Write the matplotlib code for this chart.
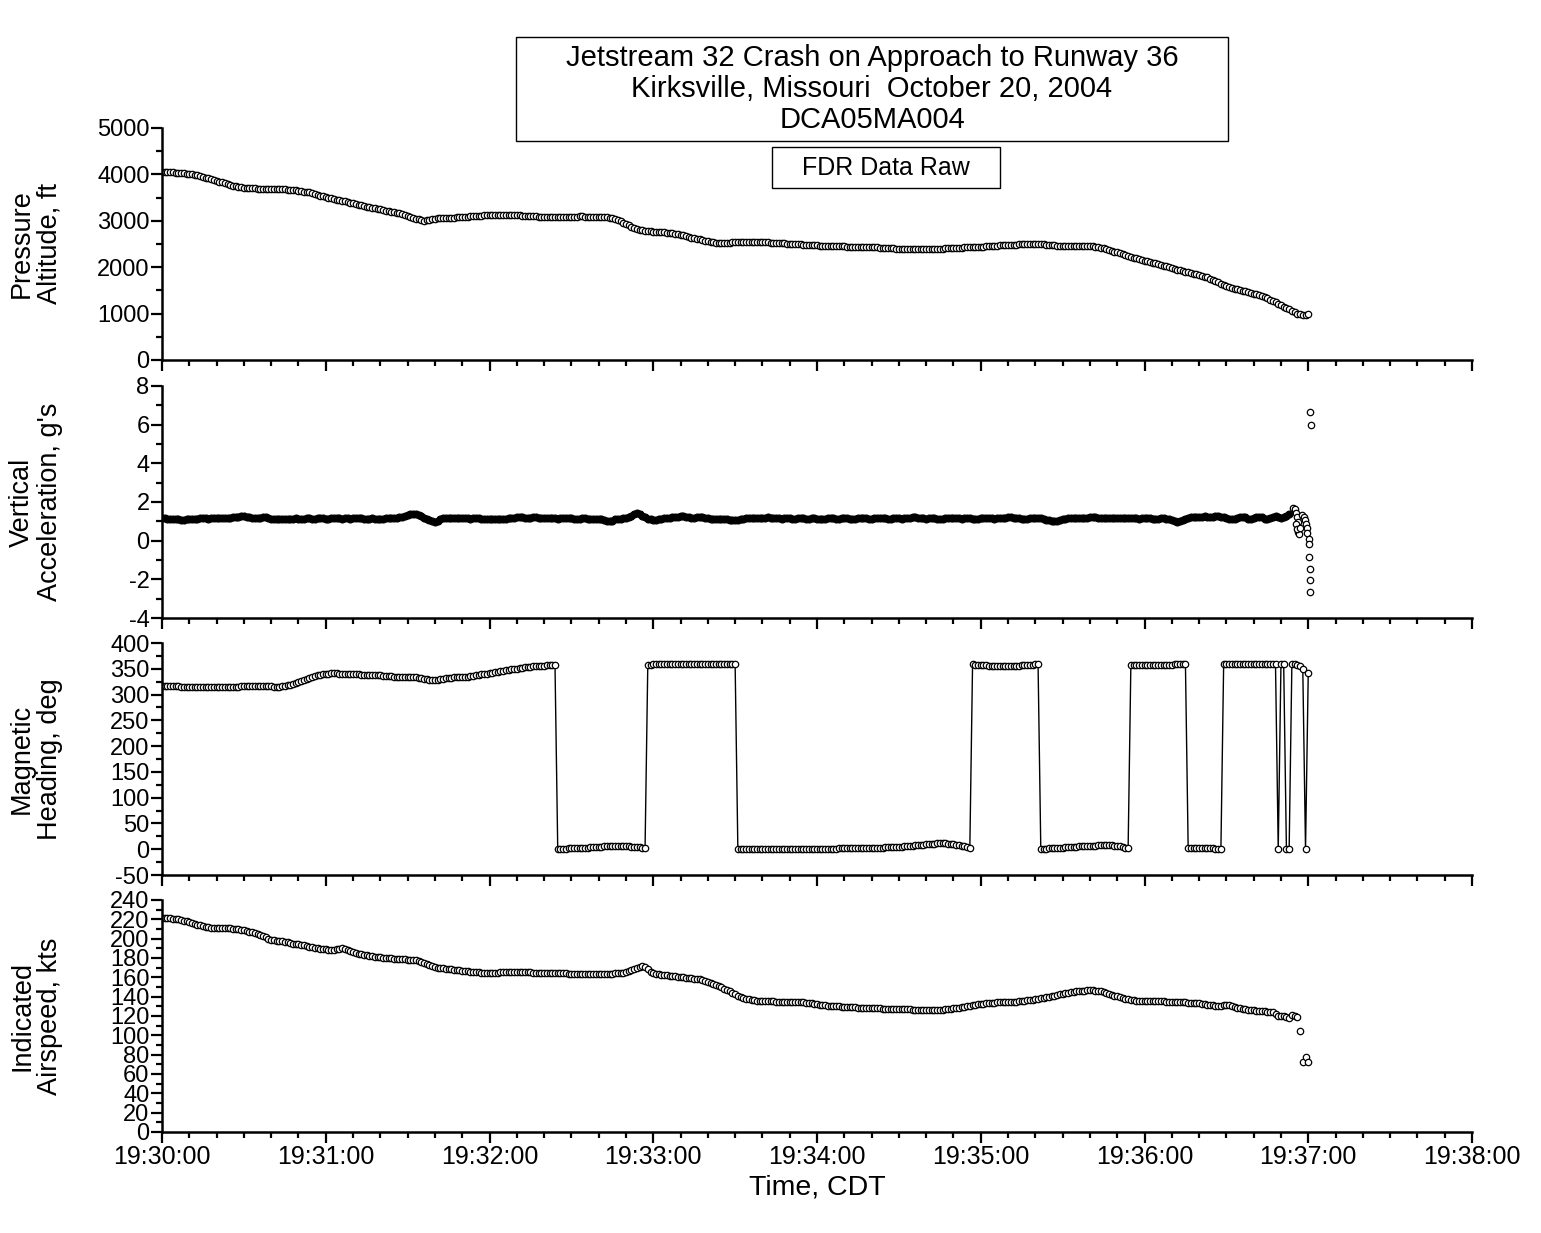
import numpy as np
import matplotlib
matplotlib.use("Agg")
import matplotlib.pyplot as plt
from matplotlib.patches import Rectangle
from matplotlib.ticker import MultipleLocator

plt.rcParams['font.family'] = ['Liberation Sans', 'DejaVu Sans']
plt.rcParams['axes.unicode_minus'] = False

# FDR samples, 1 per second starting 19:30:00
altitude_ft = [
    4058, 4055, 4052, 4048, 4044, 4040, 4035, 4028, 4022, 4016,
    4010, 3999, 3988, 3977, 3966, 3949, 3932, 3915, 3899, 3882,
    3865, 3846, 3827, 3808, 3790, 3775, 3760, 3745, 3730, 3722,
    3715, 3708, 3700, 3698, 3697, 3695, 3693, 3692, 3690, 3689,
    3688, 3687, 3686, 3686, 3685, 3680, 3674, 3668, 3662, 3656,
    3650, 3640, 3630, 3620, 3610, 3592, 3574, 3556, 3542, 3528,
    3514, 3500, 3485, 3471, 3458, 3444, 3431, 3417, 3404, 3390,
    3376, 3362, 3347, 3333, 3319, 3305, 3293, 3281, 3269, 3257,
    3245, 3233, 3221, 3209, 3197, 3185, 3173, 3161, 3144, 3127,
    3110, 3090, 3065, 3045, 3030, 3015, 3005, 3010, 3025, 3040,
    3048, 3052, 3055, 3058, 3062, 3065, 3068, 3071, 3074, 3077,
    3080, 3084, 3090, 3095, 3100, 3105, 3110, 3114, 3118, 3121,
    3124, 3126, 3128, 3129, 3130, 3130, 3129, 3127, 3125, 3122,
    3120, 3116, 3112, 3108, 3104, 3100, 3097, 3094, 3092, 3091,
    3090, 3090, 3089, 3089, 3088, 3088, 3089, 3090, 3090, 3090,
    3091, 3092, 3092, 3093, 3093, 3092, 3092, 3091, 3090, 3089,
    3088, 3085, 3081, 3076, 3070, 3055, 3040, 3020, 2990, 2960,
    2930, 2900, 2873, 2846, 2820, 2805, 2792, 2780, 2776, 2772,
    2768, 2764, 2760, 2755, 2750, 2745, 2740, 2730, 2720, 2710,
    2700, 2685, 2670, 2655, 2640, 2627, 2613, 2600, 2585, 2570,
    2555, 2540, 2536, 2532, 2528, 2524, 2520, 2523, 2528, 2534,
    2540, 2543, 2546, 2548, 2550, 2550, 2549, 2548, 2546, 2543,
    2540, 2537, 2533, 2530, 2526, 2522, 2519, 2515, 2512, 2508,
    2504, 2501, 2497, 2494, 2490, 2486, 2483, 2479, 2476, 2472,
    2468, 2465, 2461, 2457, 2454, 2450, 2449, 2449, 2448, 2447,
    2447, 2446, 2445, 2445, 2444, 2443, 2443, 2442, 2441, 2440,
    2436, 2432, 2428, 2424, 2420, 2416, 2412, 2408, 2404, 2402,
    2400, 2399, 2398, 2397, 2396, 2396, 2395, 2395, 2395, 2395,
    2395, 2395, 2396, 2397, 2398, 2400, 2402, 2405, 2408, 2411,
    2414, 2417, 2420, 2423, 2426, 2429, 2432, 2434, 2436, 2438,
    2440, 2444, 2448, 2452, 2456, 2460, 2464, 2468, 2472, 2476,
    2480, 2483, 2486, 2489, 2492, 2494, 2496, 2498, 2500, 2500,
    2499, 2497, 2494, 2490, 2486, 2482, 2476, 2470, 2465, 2460,
    2459, 2458, 2458, 2457, 2457, 2457, 2458, 2459, 2460, 2460,
    2458, 2452, 2443, 2432, 2420, 2404, 2387, 2370, 2352, 2335,
    2318, 2300, 2281, 2263, 2244, 2226, 2207, 2189, 2170, 2155,
    2140, 2125, 2110, 2095, 2080, 2065, 2050, 2033, 2016, 1999,
    1981, 1964, 1947, 1930, 1916, 1901, 1887, 1873, 1859, 1844,
    1830, 1813, 1797, 1780, 1753, 1727, 1700, 1674, 1648, 1622,
    1596, 1570, 1555, 1540, 1525, 1510, 1495, 1480, 1465, 1450,
    1432, 1415, 1397, 1380, 1353, 1327, 1300, 1270, 1240, 1210,
    1180, 1150, 1120, 1090, 1060, 1030, 1000, 985, 970, 975,
    990,
]

# vertical acceleration, centre of the 1 s band up to the impact sequence
vert_accel_g = [
    1.15, 1.15, 1.14, 1.12, 1.12, 1.13, 1.10, 1.07, 1.08, 1.12,
    1.14, 1.12, 1.10, 1.13, 1.15, 1.16, 1.15, 1.14, 1.15, 1.16,
    1.17, 1.16, 1.15, 1.15, 1.16, 1.18, 1.20, 1.22, 1.25, 1.28,
    1.27, 1.23, 1.20, 1.18, 1.16, 1.15, 1.18, 1.23, 1.20, 1.15,
    1.13, 1.12, 1.12, 1.13, 1.14, 1.14, 1.13, 1.13, 1.14, 1.15,
    1.14, 1.12, 1.13, 1.15, 1.16, 1.14, 1.13, 1.15, 1.17, 1.16,
    1.14, 1.13, 1.16, 1.18, 1.16, 1.15, 1.14, 1.15, 1.15, 1.14,
    1.15, 1.17, 1.19, 1.17, 1.14, 1.13, 1.14, 1.15, 1.14, 1.13,
    1.13, 1.14, 1.15, 1.15, 1.16, 1.17, 1.18, 1.20, 1.24, 1.29,
    1.33, 1.36, 1.38, 1.37, 1.33, 1.26, 1.18, 1.12, 1.05, 1.00,
    0.97, 1.02, 1.10, 1.15, 1.17, 1.18, 1.17, 1.15, 1.15, 1.16,
    1.18, 1.17, 1.15, 1.14, 1.15, 1.16, 1.15, 1.14, 1.13, 1.12,
    1.12, 1.13, 1.12, 1.11, 1.12, 1.13, 1.14, 1.15, 1.16, 1.17,
    1.20, 1.22, 1.21, 1.18, 1.16, 1.18, 1.21, 1.20, 1.17, 1.15,
    1.15, 1.17, 1.19, 1.17, 1.15, 1.14, 1.15, 1.17, 1.19, 1.18,
    1.16, 1.14, 1.12, 1.14, 1.17, 1.16, 1.13, 1.11, 1.10, 1.12,
    1.14, 1.12, 1.08, 1.03, 1.00, 1.04, 1.10, 1.13, 1.14, 1.16,
    1.18, 1.22, 1.30, 1.38, 1.42, 1.38, 1.30, 1.20, 1.14, 1.10,
    1.08, 1.09, 1.12, 1.14, 1.15, 1.16, 1.18, 1.20, 1.22, 1.25,
    1.27, 1.28, 1.25, 1.20, 1.17, 1.16, 1.20, 1.24, 1.22, 1.18,
    1.15, 1.14, 1.12, 1.10, 1.11, 1.13, 1.14, 1.12, 1.09, 1.06,
    1.05, 1.07, 1.10, 1.13, 1.16, 1.18, 1.19, 1.18, 1.17, 1.16,
    1.17, 1.19, 1.20, 1.18, 1.16, 1.15, 1.15, 1.14, 1.15, 1.16,
    1.15, 1.14, 1.14, 1.15, 1.16, 1.15, 1.14, 1.14, 1.15, 1.15,
    1.14, 1.13, 1.13, 1.14, 1.15, 1.16, 1.15, 1.14, 1.14, 1.15,
    1.16, 1.15, 1.14, 1.13, 1.14, 1.15, 1.15, 1.16, 1.15, 1.14,
    1.14, 1.15, 1.16, 1.17, 1.16, 1.15, 1.14, 1.14, 1.15, 1.16,
    1.15, 1.14, 1.15, 1.16, 1.18, 1.20, 1.21, 1.19, 1.17, 1.15,
    1.14, 1.15, 1.16, 1.15, 1.14, 1.13, 1.14, 1.16, 1.18, 1.19,
    1.18, 1.16, 1.15, 1.14, 1.15, 1.16, 1.15, 1.14, 1.13, 1.14,
    1.15, 1.16, 1.17, 1.16, 1.15, 1.14, 1.15, 1.16, 1.17, 1.18,
    1.20, 1.21, 1.19, 1.16, 1.15, 1.14, 1.13, 1.14, 1.16, 1.17,
    1.18, 1.17, 1.15, 1.12, 1.09, 1.05, 1.02, 1.00, 1.02, 1.06,
    1.10, 1.13, 1.15, 1.17, 1.18, 1.17, 1.16, 1.15, 1.16, 1.18,
    1.20, 1.21, 1.20, 1.18, 1.16, 1.15, 1.16, 1.17, 1.18, 1.17,
    1.16, 1.15, 1.16, 1.18, 1.19, 1.18, 1.16, 1.15, 1.14, 1.15,
    1.17, 1.18, 1.16, 1.14, 1.12, 1.13, 1.15, 1.16, 1.14, 1.10,
    1.05, 1.00, 0.98, 1.02, 1.08, 1.13, 1.17, 1.20, 1.22, 1.23,
    1.24, 1.25, 1.26, 1.24, 1.22, 1.25, 1.28, 1.26, 1.22, 1.20,
    1.16, 1.12, 1.10, 1.13, 1.18, 1.23, 1.25, 1.20, 1.14, 1.12,
    1.16, 1.22, 1.25, 1.20, 1.13, 1.10, 1.15, 1.22, 1.26, 1.22,
    1.18, 1.22, 1.30, 1.40,
]

# impact sequence (sub-second samples), seconds after 19:30:00
impact_time_s = [414.4, 415.0, 415.5, 415.8, 416.1, 416.4, 416.2, 416.7,
                 415.5, 416.0, 417.1, 417.7, 418.3, 418.9, 419.3, 419.5,
                 419.7, 420.1, 420.3, 420.3, 420.5, 420.5, 420.6, 420.8, 420.9]
impact_accel_g = [1.71, 1.62, 1.42, 1.21, 0.98, 0.72, 0.46, 0.35,
                  0.86, 0.60, 0.64, 1.33, 1.21, 1.07, 0.86, 0.64,
                  0.38, 0.07, -0.17, -0.83, -1.45, -2.05, -2.65, 6.63, 6.00]

heading_deg = [
    317, 317, 317, 316, 316, 316, 316, 315, 315, 315,
    315, 315, 315, 314, 314, 314, 314, 314, 314, 314,
    314, 314, 314, 314, 314, 315, 315, 315, 315, 316,
    316, 316, 317, 317, 317, 317, 317, 317, 316, 316,
    316, 315, 315, 315, 316, 317, 318, 319, 320, 322,
    324, 326, 328, 330, 332, 334, 336, 337, 338, 339,
    340, 340, 341, 341, 341, 340, 340, 340, 340, 339,
    339, 339, 339, 338, 338, 338, 338, 338, 337, 337,
    337, 336, 336, 336, 336, 335, 335, 335, 335, 335,
    334, 334, 334, 334, 333, 332, 331, 330, 329, 328,
    328, 329, 330, 331, 332, 333, 333, 334, 334, 334,
    335, 335, 335, 336, 336, 337, 338, 339, 339, 340,
    341, 342, 343, 344, 345, 346, 347, 348, 349, 350,
    350, 351, 352, 353, 354, 354, 355, 355, 356, 356,
    356, 357, 357, 357, 357, 1, 1, 1, 1, 2,
    2, 2, 2, 2, 3, 3, 3, 4, 4, 5,
    5, 5, 6, 6, 6, 6, 7, 7, 7, 6,
    6, 6, 5, 5, 4, 4, 3, 2, 358, 358,
    359, 359, 359, 359, 359, 359, 359, 359, 359, 359,
    359, 359, 359, 359, 359, 360, 360, 360, 360, 360,
    360, 360, 360, 360, 360, 359, 359, 359, 359, 359,
    359, 1, 1, 1, 1, 1, 1, 1, 1, 1,
    1, 1, 1, 1, 0, 0, 0, 0, 0, 0,
    0, 0, 0, 0, 0, 0, 0, 1, 1, 1,
    1, 1, 1, 1, 1, 1, 1, 1, 2, 2,
    2, 2, 2, 2, 2, 2, 2, 2, 3, 3,
    3, 3, 3, 3, 3, 4, 4, 4, 4, 5,
    5, 5, 6, 6, 7, 7, 8, 8, 9, 9,
    10, 10, 11, 11, 12, 12, 12, 12, 11, 11,
    10, 9, 8, 7, 6, 5, 3, 359, 358, 358,
    357, 357, 357, 356, 356, 356, 355, 355, 355, 355,
    355, 355, 356, 356, 356, 357, 357, 357, 358, 358,
    359, 359, 1, 1, 1, 2, 2, 2, 3, 3,
    3, 4, 4, 5, 5, 5, 6, 6, 6, 7,
    7, 7, 7, 8, 8, 8, 8, 8, 8, 7,
    7, 6, 5, 3, 2, 357, 358, 358, 358, 358,
    358, 358, 358, 358, 358, 358, 358, 358, 358, 358,
    358, 359, 359, 359, 359, 359, 2, 2, 2, 2,
    2, 2, 2, 2, 2, 2, 1, 1, 1, 359,
    359, 359, 359, 359, 359, 359, 359, 359, 359, 359,
    359, 359, 359, 359, 359, 359, 359, 359, 359, 0,
    359, 359, 0, 0, 359, 359, 358, 356, 350, 0,
    342,
]

airspeed_kts = [
    221, 221, 221, 221, 220, 220, 220, 219, 218, 218,
    217, 216, 215, 214, 214, 213, 212, 212, 211, 211,
    211, 211, 211, 211, 211, 211, 210, 210, 210, 209,
    209, 208, 207, 207, 206, 205, 204, 203, 202, 200,
    199, 199, 198, 198, 198, 197, 197, 196, 195, 195,
    194, 193, 193, 192, 191, 191, 190, 190, 189, 189,
    189, 188, 188, 188, 189, 189, 190, 189, 188, 187,
    186, 185, 184, 184, 183, 183, 182, 182, 181, 181,
    181, 180, 180, 180, 180, 179, 179, 179, 179, 179,
    178, 178, 178, 178, 177, 176, 175, 174, 173, 172,
    171, 170, 170, 170, 169, 169, 169, 168, 168, 168,
    167, 167, 167, 166, 166, 166, 166, 165, 165, 165,
    165, 165, 165, 165, 166, 166, 166, 166, 166, 166,
    166, 166, 166, 166, 166, 166, 165, 165, 165, 165,
    165, 165, 164, 164, 164, 164, 164, 164, 164, 163,
    163, 163, 163, 163, 163, 163, 163, 163, 163, 163,
    163, 163, 163, 163, 163, 163, 164, 164, 164, 165,
    166, 167, 168, 169, 170, 171, 172, 171, 169, 166,
    164, 163, 163, 162, 162, 162, 161, 161, 161, 160,
    160, 160, 159, 159, 159, 158, 158, 158, 157, 156,
    155, 154, 153, 152, 151, 150, 148, 147, 146, 144,
    143, 141, 140, 139, 138, 138, 137, 137, 136, 136,
    136, 136, 136, 136, 136, 135, 135, 135, 135, 135,
    135, 135, 134, 134, 134, 134, 133, 133, 133, 132,
    132, 131, 131, 131, 130, 130, 130, 130, 130, 129,
    129, 129, 129, 129, 129, 128, 128, 128, 128, 128,
    128, 128, 128, 128, 127, 127, 127, 127, 127, 127,
    127, 127, 127, 127, 127, 126, 126, 126, 126, 126,
    126, 126, 126, 126, 126, 126, 126, 127, 127, 127,
    128, 128, 128, 129, 129, 130, 130, 131, 131, 132,
    132, 132, 133, 133, 133, 133, 134, 134, 134, 134,
    135, 135, 135, 135, 136, 136, 136, 137, 137, 137,
    138, 138, 139, 139, 140, 140, 141, 141, 142, 143,
    143, 144, 144, 145, 145, 146, 146, 146, 146, 147,
    147, 147, 146, 146, 146, 145, 144, 143, 142, 141,
    141, 140, 139, 138, 138, 137, 137, 136, 136, 136,
    136, 136, 136, 136, 136, 136, 136, 136, 135, 135,
    135, 135, 134, 134, 134, 134, 133, 133, 133, 133,
    133, 132, 132, 131, 131, 131, 130, 130, 130, 131,
    131, 131, 130, 129, 128, 128, 127, 127, 126, 126,
    126, 125, 125, 125, 125, 124, 124, 124, 122, 120,
    120, 120, 119, 118, 121, 120, 119, 105, 72, 78,
    72,
]

x_tick_labels = ['19:30:00', '19:31:00', '19:32:00', '19:33:00', '19:34:00',
                 '19:35:00', '19:36:00', '19:37:00', '19:38:00']
y_labels = ['Pressure\nAltitude, ft', 'Vertical\nAcceleration, g\'s',
            'Magnetic\nHeading, deg', 'Indicated\nAirspeed, kts']
title_lines = 'Jetstream 32 Crash on Approach to Runway 36\nKirksville, Missouri  October 20, 2004\nDCA05MA004'

W, H = 1541, 1233
fig = plt.figure(figsize=(W / 100, H / 100), dpi=100)


def fx(px):
    return px / W


def fy(py):
    return 1 - py / H


# panel top/bottom in pixels
panels = [(128, 360), (386, 618), (643, 875), (900, 1132)]
axes = []
for top, bot in panels:
    ax = fig.add_axes([fx(162), fy(bot), fx(1472) - fx(162), (bot - top) / H])
    axes.append(ax)

ring = dict(linestyle='none', marker='o', ms=4.6, mfc='white', mec='black', mew=0.9)

t_alt = np.arange(len(altitude_ft))
axes[0].plot(t_alt, altitude_ft, **ring)

t_va = np.arange(len(vert_accel_g))
axes[1].plot(t_va, vert_accel_g, linestyle='none', marker='o', ms=5.0,
             mfc='black', mec='black', mew=0.8)
axes[1].plot(impact_time_s, impact_accel_g, **ring)

t_hdg = np.arange(len(heading_deg))
axes[2].plot(t_hdg, heading_deg, color='black', lw=1.0, marker='o', ms=4.6,
             mfc='white', mec='black', mew=0.9)

t_ias = np.arange(len(airspeed_kts))
axes[3].plot(t_ias, airspeed_kts, **ring)

limits = [(0, 5000, 1000, 500), (-4, 8, 2, 1), (-50, 400, 50, 25), (0, 240, 20, 10)]
for i, ax in enumerate(axes):
    lo, hi, major, minor = limits[i]
    ax.set_ylim(lo, hi)
    ax.yaxis.set_major_locator(MultipleLocator(major))
    ax.yaxis.set_minor_locator(MultipleLocator(minor))
    ax.set_xlim(0, 480)
    ax.set_xticks(np.arange(0, 481, 60))
    ax.xaxis.set_minor_locator(MultipleLocator(10))
    if i == 3:
        ax.set_xticklabels(x_tick_labels)
    else:
        ax.set_xticklabels([])
    for side in ['top', 'right']:
        ax.spines[side].set_visible(False)
    for side in ['left', 'bottom']:
        ax.spines[side].set_linewidth(1.8)
    ax.tick_params(which='major', direction='out', length=8, width=1.6)
    ax.tick_params(which='minor', direction='out', length=4.5, width=1.6)
    ax.tick_params(axis='y', labelsize=17, pad=1)
    ax.tick_params(axis='x', labelsize=18, pad=1)
    ax.patch.set_visible(False)
    cy = (panels[i][0] + panels[i][1]) / 2
    fig.text(fx(36), fy(cy), y_labels[i], rotation=90, ha='center', va='center',
             fontsize=19.5, linespacing=1.08, multialignment='center')

axes[3].set_xlabel('Time, CDT', fontsize=20.5, labelpad=4)

# title boxes
fig.patches.append(Rectangle((fx(516), fy(141)), fx(1228) - fx(516), (141 - 37) / H,
                             transform=fig.transFigure, fill=False, lw=1.0, ec='black'))
fig.text(fx(872), fy(89), title_lines, ha='center', va='center', fontsize=21,
         linespacing=1.12)
fig.patches.append(Rectangle((fx(772), fy(188)), fx(1000) - fx(772), (188 - 147) / H,
                             transform=fig.transFigure, fill=False, lw=1.0, ec='black'))
fig.text(fx(886), fy(168), 'FDR Data Raw', ha='center', va='center', fontsize=18)

fig.savefig('out.png', dpi=100)
